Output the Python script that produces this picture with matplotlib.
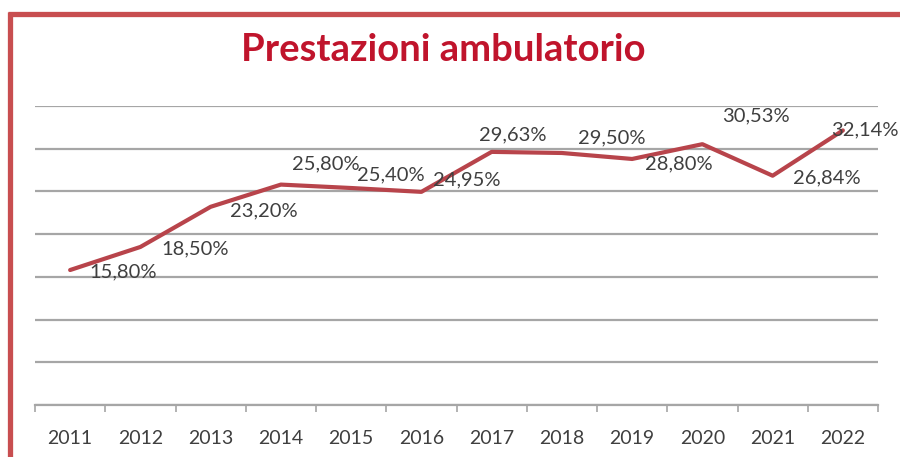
import matplotlib
matplotlib.use("Agg")
import matplotlib.pyplot as plt
from matplotlib.lines import Line2D

years = ["2011", "2012", "2013", "2014", "2015", "2016",
         "2017", "2018", "2019", "2020", "2021", "2022"]
values = [15.80, 18.50, 23.20, 25.80, 25.40, 24.95,
          29.63, 29.50, 28.80, 30.53, 26.84, 32.14]
value_labels = ["15,80%", "18,50%", "23,20%", "25,80%", "25,40%", "24,95%",
                "29,63%", "29,50%", "28,80%", "30,53%", "26,84%", "32,14%"]
title = "Prestazioni ambulatorio"

# label offsets in pixels (dx to left edge, dy up)
label_offsets = [(19, -2), (21, -2), (19, -4), (11, 21), (6, 13), (12, 12),
                 (-13, 17), (16, 15), (13, -5), (20, 28), (20, -2), (-12, 1)]

W, H = 900, 457
fig = plt.figure(figsize=(W / 100, H / 100), dpi=100)
fig.patch.set_facecolor("white")

font = "Lato"
txt_col = "#3f3f3f"

ax = fig.add_axes([35 / W, 1 - 405 / H, (878 - 35) / W, (405 - 106) / H])
x = list(range(len(years)))
ax.plot(x, values, color="#B8444B", lw=3.0, solid_capstyle="round", zorder=3)
ax.set_xlim(-0.5, len(years) - 0.5)
ax.set_ylim(0, 35)
ax.set_yticks([5 * i for i in range(8)])
ax.yaxis.grid(True, color="#a6a6a6", lw=1.6)
ax.set_axisbelow(True)
ax.tick_params(axis="y", left=False, labelleft=False)
for s in ["left", "right", "top"]:
    ax.spines[s].set_visible(False)
ax.spines["bottom"].set_color("#a6a6a6")
ax.spines["bottom"].set_linewidth(1.6)
ax.set_xticks([i - 0.5 for i in range(len(years) + 1)], minor=False)
ax.set_xticklabels([])
ax.tick_params(axis="x", which="major", length=5, width=1.2, color="#a6a6a6")
ax.set_xticks(x, minor=True)
ax.set_xticklabels(years, minor=True, fontsize=14, color=txt_col, family=font)
ax.tick_params(axis="x", which="minor", length=0, pad=18)

for xi, v, lab, (dx, dy) in zip(x, values, value_labels, label_offsets):
    ax.annotate(lab, (xi, v), xytext=(dx, dy), textcoords="offset pixels",
                ha="left", va="center", fontsize=14.5, color=txt_col,
                family=font, zorder=4)

fig.text(443 / W, 1 - 50 / H, title, ha="center", va="center",
         fontsize=27.5, fontweight="bold", color="#C0142C", family=font)

# red frame (top and left edges)
frame_col = "#C84E50"
fig.add_artist(Line2D([7.5 / W, 1.0], [1 - 13.5 / H, 1 - 13.5 / H],
                      transform=fig.transFigure, color=frame_col, lw=3.8,
                      solid_capstyle="butt"))
fig.add_artist(Line2D([9.5 / W, 9.5 / W], [0.0, 1 - 11.5 / H],
                      transform=fig.transFigure, color=frame_col, lw=3.8,
                      solid_capstyle="butt"))

fig.savefig("out.png", dpi=100)
